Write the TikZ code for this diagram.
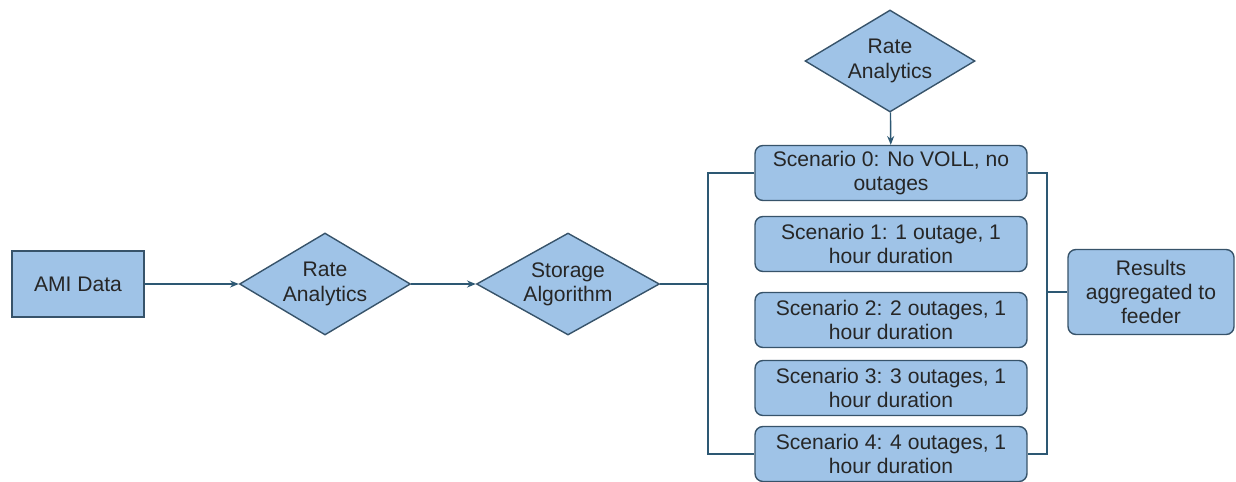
\documentclass[tikz,border=0pt]{standalone}
\usepackage{fontspec}
\setmainfont{Liberation Sans}
\usetikzlibrary{arrows.meta,shapes.geometric}
\definecolor{boxblue}{HTML}{9FC3E7}
\definecolor{edgeslate}{HTML}{37536A}
\definecolor{wireblue}{HTML}{2D5873}

\begin{document}
\begin{tikzpicture}[
    x=0.02cm, y=-0.02cm,
    >={Stealth[length=5pt,width=4pt]},
    font=\fontsize{12}{13.8}\selectfont,
    block/.style={
        draw=edgeslate,
        fill=boxblue,
        line width=0.8pt,
        text=black!85,
        align=center,
    },
    scenario/.style={
        block,
        rounded corners=4.5pt,
        inner ysep=1pt,
        minimum width=5.44cm,
        minimum height=1.1cm,
    },
    decision/.style={
        block,
        diamond,
        inner sep=0pt,
        aspect=1.7,
    },
    wire/.style={
        draw=wireblue,
        line width=0.8pt
    },
    every edge/.style={
        wire
    }
]
\useasboundingbox (0,0) rectangle (1236,481);

% =====================
% BLOCCHI
% =====================
\node[block, minimum width=2.64cm, minimum height=1.32cm] at (78,284) (ami) {AMI Data};
\node[decision, minimum width=3.42cm, minimum height=2.04cm] at (325,284) (rate) {Rate\\Analytics};
\node[decision, minimum width=3.66cm, minimum height=2.04cm] at (568,284) (alg) {Storage\\Algorithm};
\node[decision, minimum width=3.4cm, minimum height=2.04cm] at (890,61) (rate2) {Rate\\Analytics};

% scenari
\node[scenario] at (891,173) (s0) {Scenario 0: No VOLL, no\\outages};
\node[scenario] at (891,244) (s1) {Scenario 1: 1 outage, 1\\hour duration};
\node[scenario] at (891,320) (s2) {Scenario 2: 2 outages, 1\\hour duration};
\node[scenario] at (891,388) (s3) {Scenario 3: 3 outages, 1\\hour duration};
\node[scenario] at (891,454) (s4) {Scenario 4: 4 outages, 1\\hour duration};

\node[block, rounded corners=4.5pt, minimum width=3.32cm, minimum height=1.7cm] at (1151,292) (res) {Results\\aggregated to\\feeder};

% =====================
% COLLEGAMENTI
% =====================
\coordinate (lbr) at (708,284);
\coordinate (rbr) at (1047,292);

% AMI -> Rate -> Storage
\path (ami) edge[->] (rate);
\path (rate) edge[->] (alg);

% Rate (alto) -> scenario 0
\path (rate2) edge[->] (s0);

% parentesi sinistra
\draw[wire] (alg) -- (lbr);
\draw[wire] (s0) -| (lbr) |- (s4);

% parentesi destra
\draw[wire] (s0) -| (rbr) |- (s4);
\draw[wire] (rbr) -- (res);

\end{tikzpicture}
\end{document}
